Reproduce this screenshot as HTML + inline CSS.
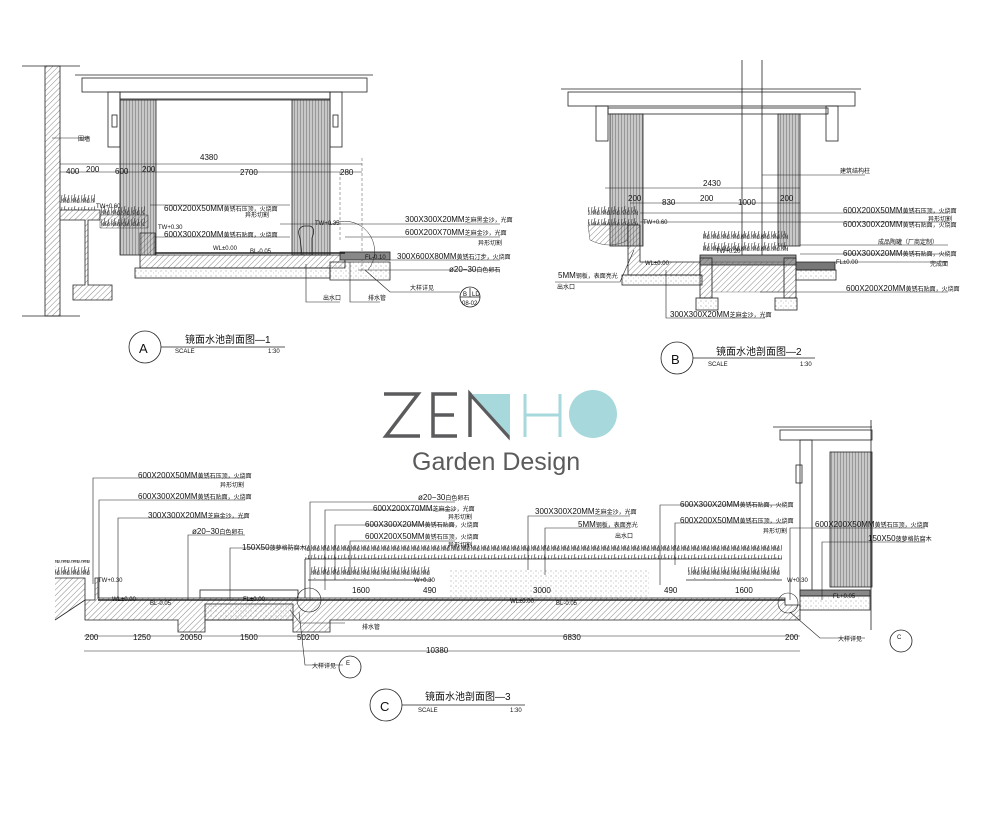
<!DOCTYPE html>
<html><head><meta charset="utf-8"><style>
html,body{margin:0;padding:0;background:#fff;}
svg{display:block;}
text{font-family:"Liberation Sans","Noto Sans CJK SC",sans-serif;fill:#111;}
.t{font-size:8px;}
.s{font-size:6px;}
</style></head><body>
<svg width="1000" height="831" viewBox="0 0 1000 831" xmlns="http://www.w3.org/2000/svg">
<defs>
<pattern id="h" width="4" height="4" patternUnits="userSpaceOnUse" patternTransform="rotate(45)"><line x1="0" y1="0" x2="0" y2="4" stroke="#555" stroke-width="0.7"/></pattern>
<pattern id="d" width="5" height="5" patternUnits="userSpaceOnUse"><circle cx="1" cy="1" r="0.5" fill="#777"/><circle cx="3.5" cy="3" r="0.4" fill="#999"/></pattern>
<pattern id="st" width="3" height="10" patternUnits="userSpaceOnUse"><rect width="3" height="10" fill="#c8c8c8"/><line x1="0.5" y1="0" x2="0.5" y2="10" stroke="#777" stroke-width="0.6"/></pattern>
<pattern id="pl" width="10" height="12" patternUnits="userSpaceOnUse"><path d="M1 11 L2 3 M3 11 L5 2 M5 11 L6 5 M7 11 L9 3 M9 11 L9 6" stroke="#333" stroke-width="0.6" fill="none"/><circle cx="4" cy="8" r="1.5" fill="#888" stroke="#333" stroke-width="0.4"/><circle cx="8" cy="9" r="1.3" fill="none" stroke="#333" stroke-width="0.5"/></pattern>
</defs>
<g stroke="#222" stroke-width="0.8" fill="none">
<line x1="22" y1="66" x2="80" y2="66"/><line x1="22" y1="316" x2="80" y2="316"/>
<rect x="45" y="66" width="15" height="250" fill="url(#h)"/>
<line x1="75" y1="75" x2="373" y2="75"/>
<rect x="82" y="78" width="285" height="14"/>
<rect x="120" y="92" width="210" height="7"/>
<rect x="108" y="92" width="12" height="55"/><rect x="330" y="92" width="12" height="55"/>
<rect x="112" y="115" width="5" height="12"/><rect x="333" y="115" width="5" height="12"/>
<rect x="120" y="100" width="36" height="155" fill="url(#st)"/>
<rect x="292" y="100" width="38" height="155" fill="url(#st)"/>
<line x1="156" y1="100" x2="292" y2="100"/>
<line x1="60" y1="164" x2="362" y2="164" stroke-width="0.5"/>
<line x1="60" y1="172" x2="362" y2="172" stroke-width="0.5"/>
<line x1="60" y1="158" x2="60" y2="178" stroke-width="0.4"/>
<line x1="362" y1="158" x2="362" y2="270" stroke-width="0.4" stroke-dasharray="3 2"/>
<line x1="340" y1="172" x2="340" y2="240" stroke-width="0.4" stroke-dasharray="3 2"/>
<path d="M60 210 L100 210 L100 220 L88 220 L88 285 L112 285 L112 300 L73 300 L73 285 L85 285 L85 220 L60 220" fill="url(#h)"/>
<rect x="60" y="194" width="35" height="16" fill="url(#pl)" stroke="none"/>
<rect x="100" y="206" width="45" height="20" fill="url(#pl)" stroke="none"/>
<path d="M100 215 L148 215 L148 228 L100 228 Z" fill="url(#h)" stroke-width="0.4"/>
<path d="M140 233 L155 233 L155 255 L345 255 L345 268 L140 268 Z" fill="url(#h)"/>
<rect x="135" y="268" width="195" height="10" fill="url(#d)"/>
<path d="M330 262 L390 262 L390 280 L330 280 Z" fill="url(#d)"/>
<rect x="340" y="252" width="50" height="8" fill="#888"/>
<line x1="155" y1="253" x2="345" y2="253" stroke-width="1.5"/>
<path d="M300 238 Q296 228 304 226 L310 226 Q316 228 312 238 L312 255 L302 255 Z"/>
<path d="M330 225 A30 30 0 0 1 368 270" stroke-width="0.5"/>
<g stroke-width="0.6">
<line x1="52" y1="138" x2="90" y2="138"/>
<line x1="150" y1="205" x2="290" y2="205"/>
<line x1="155" y1="237" x2="290" y2="237"/>
<line x1="280" y1="224" x2="500" y2="224"/>
<line x1="345" y1="237" x2="500" y2="237"/>
<line x1="385" y1="260" x2="500" y2="260"/>
<line x1="358" y1="270" x2="500" y2="270"/>
<polyline points="306,264 306,302 340,302"/>
<polyline points="350,262 350,302 380,302"/>
<polyline points="365,270 390,292 460,292"/>
</g>
<circle cx="470" cy="297" r="10"/><line x1="460" y1="297" x2="480" y2="297"/><line x1="470" y1="288" x2="470" y2="297"/>
<circle cx="145" cy="347" r="16"/><line x1="161" y1="347" x2="285" y2="347"/>
<line x1="742" y1="60" x2="742" y2="260"/><line x1="762" y1="60" x2="762" y2="258"/>
<line x1="561" y1="89" x2="861" y2="89"/>
<rect x="568" y="92" width="287" height="14"/>
<rect x="596" y="106" width="12" height="35"/><rect x="826" y="106" width="12" height="35"/>
<rect x="608" y="108" width="220" height="6"/>
<rect x="610" y="114" width="33" height="132" fill="url(#st)"/>
<rect x="778" y="114" width="22" height="132" fill="url(#st)"/>
<line x1="605" y1="188" x2="800" y2="188" stroke-width="0.5"/>
<line x1="630" y1="203" x2="800" y2="203" stroke-width="0.5"/>
<rect x="588" y="203" width="50" height="22" fill="url(#pl)" stroke="none"/>
<path d="M588 225 L628 225 L628 240 Q610 250 590 240 Z" fill="url(#h)" stroke-width="0.4"/>
<path d="M628 225 L640 225 L640 262 L700 262 L700 275 L628 275 Z" fill="url(#h)"/>
<rect x="622" y="275" width="80" height="10" fill="url(#d)"/>
<rect x="700" y="255" width="96" height="10" fill="#999"/>
<rect x="700" y="258" width="12" height="40" fill="url(#h)"/><rect x="784" y="258" width="12" height="40" fill="url(#h)"/>
<rect x="712" y="262" width="72" height="30" fill="url(#h)" stroke-width="0.3"/>
<rect x="703" y="231" width="85" height="22" fill="url(#pl)" stroke="none"/>
<rect x="696" y="298" width="22" height="12" fill="url(#d)"/><rect x="775" y="298" width="22" height="12" fill="url(#d)"/>
<path d="M796 262 L835 262 L835 270 L796 270 Z" fill="#777"/>
<rect x="796" y="270" width="40" height="10" fill="url(#d)"/>
<g stroke-width="0.6">
<line x1="762" y1="175" x2="865" y2="175"/>
<line x1="640" y1="213" x2="948" y2="213"/>
<line x1="640" y1="222" x2="948" y2="222"/>
<line x1="800" y1="245" x2="948" y2="245"/>
<line x1="800" y1="254" x2="948" y2="254"/>
<line x1="835" y1="262" x2="948" y2="262"/>
<line x1="760" y1="292" x2="948" y2="292"/>
<polyline points="634,250 620,282 555,282"/>
<polyline points="666,270 666,318 765,318"/>
</g>
<circle cx="677" cy="358" r="16"/><line x1="693" y1="358" x2="815" y2="358"/>
<line x1="773" y1="427" x2="872" y2="427"/>
<rect x="780" y="430" width="92" height="10"/>
<rect x="800" y="440" width="12" height="155"/>
<rect x="796" y="465" width="6" height="18"/>
<rect x="830" y="452" width="42" height="135" fill="url(#st)"/>
<line x1="871" y1="420" x2="871" y2="630"/>
<rect x="55" y="560" width="35" height="18" fill="url(#pl)" stroke="none"/>
<path d="M55 578 L85 578 L85 600 L95 600 L95 578 L98 578 L98 598 L785 598 L785 605 L800 605 L800 620 L330 620 L330 632 L293 632 L293 620 L205 620 L205 632 L178 632 L178 620 L85 620 L85 600 L55 620" fill="url(#h)"/>
<line x1="98" y1="600" x2="785" y2="600" stroke-width="1.6"/>
<rect x="205" y="604" width="88" height="16" fill="url(#d)"/>
<rect x="200" y="590" width="98" height="8"/>
<rect x="305" y="545" width="477" height="14" fill="url(#pl)" stroke="none"/>
<line x1="305" y1="559" x2="782" y2="559"/>
<rect x="310" y="566" width="120" height="13" fill="url(#pl)" stroke="none"/>
<rect x="688" y="566" width="92" height="13" fill="url(#pl)" stroke="none"/>
<line x1="308" y1="580" x2="432" y2="580"/><line x1="686" y1="580" x2="782" y2="580"/>
<rect x="450" y="570" width="200" height="28" fill="url(#d)" stroke="none"/>
<line x1="305" y1="559" x2="305" y2="598"/>
<rect x="800" y="590" width="70" height="6" fill="#888"/>
<rect x="800" y="596" width="70" height="14" fill="url(#d)"/>
<line x1="84" y1="636" x2="800" y2="636" stroke-width="0.5"/>
<line x1="84" y1="651" x2="800" y2="651" stroke-width="0.5"/>
<circle cx="309" cy="600" r="12" stroke-width="0.6"/><circle cx="788" cy="603" r="10" stroke-width="0.6"/>
<g stroke-width="0.6">
<polyline points="93,584 93,478 245,478"/>
<polyline points="99,600 99,500 245,500"/>
<polyline points="118,600 118,518 245,518"/>
<polyline points="188,600 188,535 245,535"/>
<polyline points="230,600 230,548 300,548"/>
<polyline points="310,600 310,502 455,502"/>
<polyline points="325,590 325,510 455,510"/>
<polyline points="335,580 335,525 455,525"/>
<polyline points="350,575 350,541 455,541"/>
<polyline points="528,570 528,516 630,516"/>
<polyline points="545,575 545,528 630,528"/>
<polyline points="660,585 660,505 785,505"/>
<polyline points="675,565 675,523 785,523"/>
<polyline points="790,600 790,528 925,528"/>
<polyline points="822,600 822,542 925,542"/>
<polyline points="290,610 300,623 345,623"/>
<polyline points="299,612 305,665 343,665"/>
<polyline points="790,612 820,638 865,638"/>
</g>
<circle cx="350" cy="667" r="11"/><circle cx="901" cy="641" r="11"/>
<circle cx="386" cy="705" r="16"/><line x1="402" y1="705" x2="525" y2="705"/>
</g>
<text class="s" x="78" y="141">围墙</text>
<text class="t" x="200" y="160">4380</text>
<text class="t" x="66" y="174">400</text><text class="t" x="86" y="172">200</text><text class="t" x="115" y="174">600</text><text class="t" x="142" y="172">200</text><text class="t" x="240" y="175">2700</text><text class="t" x="340" y="175">280</text>
<text class="s" x="96" y="208">TW+0.60</text>
<text class="t" x="164" y="211">600X200X50MM<tspan class="s">黄锈石压顶，火烧面</tspan></text>
<text class="s" x="245" y="217">异形切割</text>
<text class="s" x="158" y="229">TW+0.30</text>
<text class="t" x="164" y="237">600X300X20MM<tspan class="s">黄锈石贴面，火烧面</tspan></text>
<text class="s" x="213" y="250">WL±0.00</text><text class="s" x="250" y="253">BL-0.05</text>
<text class="s" x="315" y="225">TW+0.35</text>
<text class="t" x="405" y="222">300X300X20MM<tspan class="s">芝麻黑金沙，光面</tspan></text>
<text class="t" x="405" y="235">600X200X70MM<tspan class="s">芝麻金沙，光面</tspan></text>
<text class="s" x="478" y="245">异形切割</text>
<text class="s" x="365" y="259">FL-0.10</text>
<text class="t" x="397" y="259">300X600X80MM<tspan class="s">黄锈石汀步，火烧面</tspan></text>
<text class="t" x="449" y="272">ø20−30<tspan class="s">白色卵石</tspan></text>
<text class="s" x="410" y="290">大样详见</text>
<text class="s" x="323" y="300">出水口</text><text class="s" x="368" y="300">排水管</text>
<text class="s" x="463" y="296">B</text><text class="s" x="472" y="296">LD</text><text class="s" x="462" y="305">08-02</text>
<text x="139" y="353" style="font-size:13px">A</text>
<text x="185" y="343" style="font-size:10px">镜面水池剖面图—1</text>
<text class="s" x="175" y="353">SCALE</text><text class="s" x="268" y="353">1:30</text>
<text class="s" x="840" y="173">建筑结构柱</text>
<text class="t" x="703" y="186">2430</text>
<text class="t" x="628" y="201">200</text><text class="t" x="662" y="205">830</text><text class="t" x="700" y="201">200</text><text class="t" x="738" y="205">1000</text><text class="t" x="780" y="201">200</text>
<text class="s" x="643" y="224">TW+0.60</text>
<text class="s" x="716" y="253">TW+0.20</text>
<text class="s" x="645" y="265">WL±0.00</text>
<text class="t" x="843" y="213">600X200X50MM<tspan class="s">黄锈石压顶，火烧面</tspan></text>
<text class="s" x="928" y="221">异形切割</text>
<text class="t" x="843" y="227">600X300X20MM<tspan class="s">黄锈石贴面，火烧面</tspan></text>
<text class="s" x="878" y="244">成品陶罐（厂商定制）</text>
<text class="t" x="843" y="256">600X300X20MM<tspan class="s">黄锈石贴面，火烧面</tspan></text>
<text class="s" x="836" y="264">FL±0.00</text><text class="s" x="930" y="266">完成面</text>
<text class="t" x="846" y="291">600X200X20MM<tspan class="s">黄锈石贴面，火烧面</tspan></text>
<text class="t" x="558" y="278">5MM<tspan class="s">钢板，表面亮光</tspan></text>
<text class="s" x="557" y="289">出水口</text>
<text class="t" x="670" y="317">300X300X20MM<tspan class="s">芝麻金沙，光面</tspan></text>
<text x="671" y="364" style="font-size:13px">B</text>
<text x="716" y="355" style="font-size:10px">镜面水池剖面图—2</text>
<text class="s" x="708" y="366">SCALE</text><text class="s" x="800" y="366">1:30</text>
<g fill="none" stroke="#5b5b5d" stroke-width="3.5">
<polyline points="384,394 418,394 386,436 420,436"/>
<polyline points="457,394 433,394 433,436 457,436"/><line x1="433" y1="415" x2="454" y2="415"/>
<polyline points="470,437 470,394 508,436 508,394"/>
</g>
<polygon points="472,394 510,394 510,436" fill="#a6d8dc"/>
<g stroke="#a6d8dc" stroke-width="3"><line x1="525" y1="394" x2="525" y2="437"/><line x1="560" y1="394" x2="560" y2="437"/><line x1="525" y1="415" x2="560" y2="415"/></g>
<circle cx="593" cy="414" r="24" fill="#a6d8dc"/>
<text x="412" y="470" style="font-size:25px;fill:#5b5b5d">Garden Design</text>
<text class="t" x="138" y="478">600X200X50MM<tspan class="s">黄锈石压顶，火烧面</tspan></text><text class="s" x="220" y="487">异形切割</text>
<text class="t" x="138" y="499">600X300X20MM<tspan class="s">黄锈石贴面，火烧面</tspan></text>
<text class="t" x="148" y="518">300X300X20MM<tspan class="s">芝麻金沙，光面</tspan></text>
<text class="t" x="192" y="534">ø20−30<tspan class="s">白色卵石</tspan></text>
<text class="t" x="242" y="550">150X50<tspan class="s">菠萝格防腐木</tspan></text>
<text class="t" x="418" y="500">ø20−30<tspan class="s">白色卵石</tspan></text>
<text class="t" x="373" y="511">600X200X70MM<tspan class="s">芝麻金沙，光面</tspan></text><text class="s" x="448" y="519">异形切割</text>
<text class="t" x="365" y="527">600X300X20MM<tspan class="s">黄锈石贴面，火烧面</tspan></text>
<text class="t" x="365" y="539">600X200X50MM<tspan class="s">黄锈石压顶，火烧面</tspan></text><text class="s" x="448" y="547">异形切割</text>
<text class="t" x="535" y="514">300X300X20MM<tspan class="s">芝麻金沙，光面</tspan></text>
<text class="t" x="578" y="527">5MM<tspan class="s">钢板，表面亮光</tspan></text><text class="s" x="615" y="538">出水口</text>
<text class="t" x="680" y="507">600X300X20MM<tspan class="s">黄锈石贴面，火烧面</tspan></text>
<text class="t" x="680" y="523">600X200X50MM<tspan class="s">黄锈石压顶，火烧面</tspan></text><text class="s" x="763" y="533">异形切割</text>
<text class="t" x="815" y="527">600X200X50MM<tspan class="s">黄锈石压顶，火烧面</tspan></text>
<text class="t" x="868" y="541">150X50<tspan class="s">菠萝格防腐木</tspan></text>
<text class="s" x="98" y="582">TW+0.30</text>
<text class="s" x="112" y="601">WL±0.00</text><text class="s" x="150" y="605">BL-0.05</text>
<text class="s" x="243" y="601">FL±0.00</text>
<text class="s" x="414" y="582">W+0.30</text><text class="s" x="787" y="582">W+0.30</text>
<text class="s" x="510" y="603">WL±0.00</text><text class="s" x="556" y="605">BL-0.05</text>
<text class="s" x="833" y="598">FL+0.05</text>
<text class="t" x="352" y="593">1600</text><text class="t" x="423" y="593">490</text><text class="t" x="533" y="593">3000</text><text class="t" x="664" y="593">490</text><text class="t" x="735" y="593">1600</text>
<text class="t" x="85" y="640">200</text><text class="t" x="133" y="640">1250</text><text class="t" x="180" y="640">20050</text><text class="t" x="240" y="640">1500</text><text class="t" x="297" y="640">50200</text><text class="t" x="563" y="640">6830</text><text class="t" x="785" y="640">200</text>
<text class="t" x="426" y="653">10380</text>
<text class="s" x="362" y="629">排水管</text>
<text class="s" x="312" y="668">大样详见</text><text class="s" x="838" y="641">大样详见</text>
<text class="s" x="346" y="665">E</text><text class="s" x="897" y="639">C</text>
<text x="380" y="711" style="font-size:13px">C</text>
<text x="425" y="700" style="font-size:10px">镜面水池剖面图—3</text>
<text class="s" x="418" y="712">SCALE</text><text class="s" x="510" y="712">1:30</text>
</svg>
</body></html>
